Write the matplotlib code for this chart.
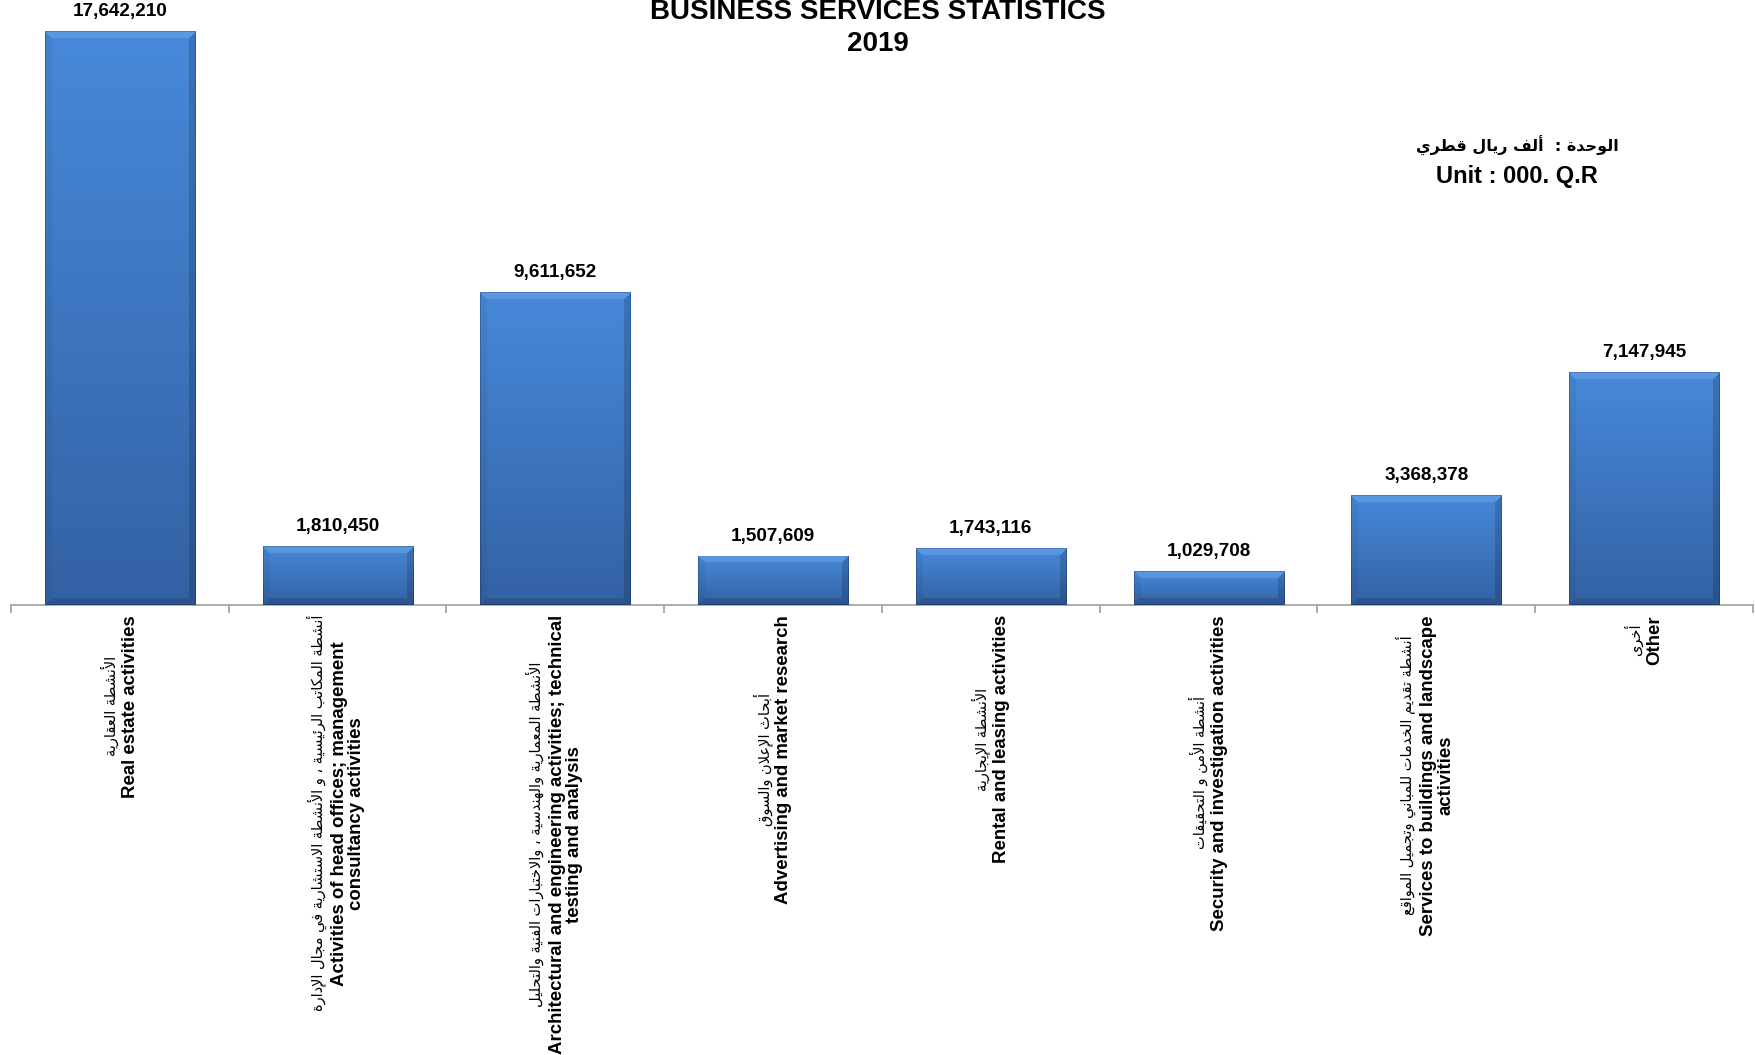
import unicodedata

import matplotlib
matplotlib.use("Agg")
import matplotlib.pyplot as plt
import numpy as np


values = [17642210, 1810450, 9611652, 1507609, 1743116, 1029708, 3368378, 7147945]
labels_en = [
    "Real estate activities",
    "Activities of head offices; management\nconsultancy activities",
    "Architectural and engineering activities; technical\ntesting and analysis",
    "Advertising and market research",
    "Rental and leasing activities",
    "Security and investigation activities",
    "Services to buildings and landscape\nactivities",
    "Other",
]
labels_ar = [
    "الأنشطة العقارية",
    "أنشطة المكاتب الرئيسية ، و الأنشطة الاستشارية في مجال الإدارة",
    "الأنشطة المعمارية والهندسية ، والاختبارات الفنية والتحليل",
    "أبحاث الإعلان والسوق",
    "الأنشطة الإيجارية",
    "أنشطة الأمن و التحقيقات",
    "أنشطة تقديم الخدمات للمباني وتجميل المواقع",
    "أخرى",
]
title = "BUSINESS SERVICES STATISTICS"
year = "2019"
unit_ar = "الوحدة :  ألف ريال قطري"
unit_en = "Unit : 000. Q.R"


def _forms(ch):
    try:
        name = unicodedata.name(ch)
    except ValueError:
        return None
    if not name.startswith("ARABIC LETTER"):
        return None
    out = {}
    for f in ("ISOLATED", "FINAL", "INITIAL", "MEDIAL"):
        try:
            out[f] = unicodedata.lookup(name + " " + f + " FORM")
        except KeyError:
            pass
    return out


def shape_ar(s):
    # matplotlib has no arabic shaping: pick presentation forms, then reverse
    chars = list(s)
    res = []
    i = 0
    n = len(chars)
    while i < n:
        ch = chars[i]
        f = _forms(ch)
        if f is None:
            res.append(ch)
            i += 1
            continue
        prev = _forms(chars[i - 1]) if i > 0 else None
        joins_prev = prev is not None and "INITIAL" in prev and "FINAL" in f
        # lam + alef ligature
        if ch == "ل" and i + 1 < n and chars[i + 1] in "اأإآ":
            alef = unicodedata.name(chars[i + 1]).replace("ARABIC LETTER ", "")
            form = "FINAL" if joins_prev else "ISOLATED"
            res.append(unicodedata.lookup("ARABIC LIGATURE LAM WITH " + alef + " " + form + " FORM"))
            i += 2
            continue
        nxt = _forms(chars[i + 1]) if i + 1 < n else None
        joins_next = "INITIAL" in f and nxt is not None and "FINAL" in nxt
        if joins_prev and joins_next:
            form = "MEDIAL"
        elif joins_prev:
            form = "FINAL"
        elif joins_next:
            form = "INITIAL"
        else:
            form = "ISOLATED"
        res.append(f.get(form, ch))
        i += 1
    return "".join(reversed(res))


def bar_image(h, w, bev=7):
    h = max(int(round(h)), 2)
    w = max(int(round(w)), 2)
    top = np.array([0x47, 0x89, 0xDA]) / 255
    bot = np.array([0x33, 0x62, 0xA4]) / 255
    t = np.linspace(0, 1, h)[:, None, None]
    img = np.repeat(top + (bot - top) * t, w, axis=1)
    yy, xx = np.mgrid[0:h, 0:w]
    dt, db, dl, dr = yy, h - 1 - yy, xx, w - 1 - xx
    m = np.minimum.reduce([dt, db, dl, dr])
    edge = m < bev
    top_m = edge & (dt == m)
    bot_m = edge & (db == m) & ~top_m
    left_m = edge & (dl == m) & ~top_m & ~bot_m
    right_m = edge & ~top_m & ~bot_m & ~left_m
    img[top_m] = img[top_m] * 0.72 + 0.28 * np.array([0.55, 0.75, 0.97])
    img[left_m] = img[left_m] * 0.95
    img[right_m] = img[right_m] * 0.84
    img[bot_m] = img[bot_m] * 0.86
    # thin dark outline like the excel bevel edge
    img[m == 0] = img[m == 0] * 0.8
    return np.clip(img, 0, 1)


W, H = 1756, 1055
fig = plt.figure(figsize=(W / 100, H / 100), dpi=100)
ax = fig.add_axes([11 / W, 1 - 605 / H, (1753 - 11) / W, (605 - 31) / H])

x = np.arange(len(values))
bars = ax.bar(x, values, width=0.69, color="#3F7BCB", edgecolor="none", zorder=2)

px_per_val = (605 - 31) / max(values)
for b in bars:
    img = bar_image(b.get_height() * px_per_val, 150)
    im = ax.imshow(img, extent=(b.get_x(), b.get_x() + b.get_width(), 0, b.get_height()),
                   aspect="auto", origin="upper", interpolation="bilinear", zorder=3)
    im.set_clip_path(b)

for xi, v in zip(x, values):
    ax.annotate(f"{v:,}", xy=(xi, v), xytext=(0, 11), textcoords="offset pixels",
                ha="center", va="bottom", fontsize=13.6, fontweight="bold",
                family="Liberation Sans", color="black")

ax.set_xlim(-0.5, len(values) - 0.5)
ax.set_ylim(0, max(values))
for s in ["top", "left", "right"]:
    ax.spines[s].set_visible(False)
ax.spines["bottom"].set_color("#A6A6A6")
ax.spines["bottom"].set_linewidth(1.3)
ax.set_yticks([])
ax.set_xticks(x)
ax.set_xticklabels([])
ax.tick_params(axis="x", which="major", length=0)
ax.set_xticks(np.arange(len(values) + 1) - 0.5, minor=True)
ax.tick_params(axis="x", which="minor", length=6, width=1.3, color="#A6A6A6", direction="out")

# category labels: arabic line + bold english lines, rotated
pitch = 21
gap = 10
label_pairs = []
for xi, en, ar in zip(x, labels_en, labels_ar):
    n_en = en.count("\n") + 1
    ta = ax.annotate(shape_ar(ar), xy=(xi, 0), xycoords=ax.get_xaxis_transform(),
                     xytext=(-n_en * pitch / 2, -gap), textcoords="offset pixels",
                     rotation=90, ha="center", va="top", fontsize=10.5,
                     family="DejaVu Sans", color="black")
    te = ax.annotate(en, xy=(xi, 0), xycoords=ax.get_xaxis_transform(),
                     xytext=(pitch / 2, -gap), textcoords="offset pixels",
                     rotation=90, ha="center", va="top", multialignment="center",
                     fontsize=13.4, fontweight="bold", family="Liberation Sans",
                     color="black", linespacing=1.05)
    label_pairs.append((ta, te))

fig.canvas.draw()
renderer = fig.canvas.get_renderer()
for ta, te in label_pairs:
    length = max(ta.get_window_extent(renderer).height, te.get_window_extent(renderer).height)
    for t in (ta, te):
        dx = t.xyann[0]
        t.set_va("center")
        t.xyann = (dx, -gap - length / 2)

fig.text(0.5, 1 - 12 / H, title, ha="center", va="center", fontsize=20,
         fontweight="bold", family="Liberation Sans")
fig.text(0.5, 1 - 44 / H, year, ha="center", va="center", fontsize=20,
         fontweight="bold", family="Liberation Sans")
fig.text(1517 / W, 1 - 146 / H, shape_ar(unit_ar), ha="center", va="center",
         fontsize=11.5, fontweight="bold", family="DejaVu Sans")
fig.text(1517 / W, 1 - 176 / H, unit_en, ha="center", va="center", fontsize=17,
         fontweight="bold", family="Liberation Sans")

fig.savefig("out.png", dpi=100)
